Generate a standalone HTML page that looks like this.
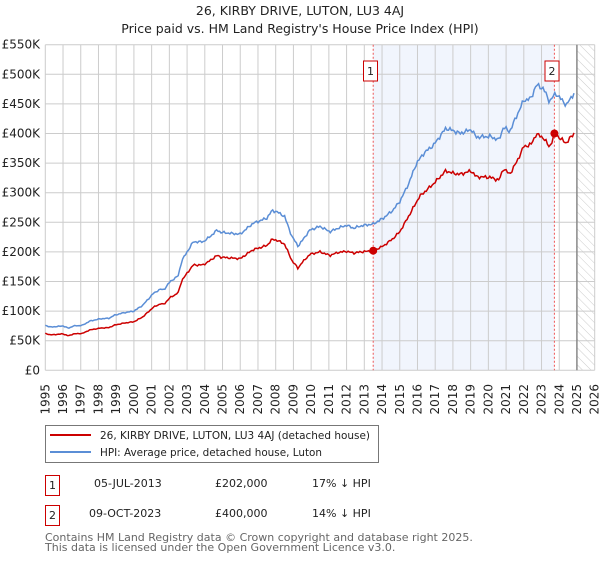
<!DOCTYPE html>
<html><head><meta charset="utf-8">
<style>
body{margin:0;background:#fff;font-family:"DejaVu Sans","Liberation Sans",sans-serif;}
svg text{font-family:"DejaVu Sans","Liberation Sans",sans-serif;}
</style></head>
<body>
<svg id="s" width="600" height="560" xmlns="http://www.w3.org/2000/svg">
<defs>
<pattern id="h" width="6" height="6" patternUnits="userSpaceOnUse" patternTransform="rotate(-45)">
<line x1="0" y1="0" x2="0" y2="6" stroke="#ccc" stroke-width="1"/>
</pattern>
</defs>
<text x="300" y="15" text-anchor="middle" font-size="12.5" fill="#222">26, KIRBY DRIVE, LUTON, LU3 4AJ</text>
<text x="300" y="33" text-anchor="middle" font-size="12.5" fill="#222">Price paid vs. HM Land Registry's House Price Index (HPI)</text>
<rect x="373.2" y="44.7" width="181.2" height="325.6" fill="#eef3fc" opacity="0.8"/>
<rect x="576.9" y="44.7" width="17.8" height="325.6" fill="url(#h)"/>
<g id="grid"></g>
<line x1="576.9" y1="44.7" x2="576.9" y2="370.3" stroke="#888" stroke-width="1.5"/>
<line x1="373.2" y1="44.7" x2="373.2" y2="370.3" stroke="#e55" stroke-width="1" stroke-dasharray="2,2"/>
<line x1="554.4" y1="44.7" x2="554.4" y2="370.3" stroke="#e55" stroke-width="1" stroke-dasharray="2,2"/>
<path id="blue" fill="none" stroke="#5b8ed6" stroke-width="1.5"/>
<path id="red" fill="none" stroke="#cc0000" stroke-width="1.5"/>
<circle cx="373.2" cy="250.7" r="4" fill="#cc0000"/>
<circle cx="554.4" cy="133.5" r="4" fill="#cc0000"/>
<rect x="363.5" y="61" width="14" height="20" fill="#fff" stroke="#cc0000"/>
<text x="370.5" y="75" text-anchor="middle" font-size="11" fill="#222">1</text>
<rect x="545" y="61" width="14" height="20" fill="#fff" stroke="#cc0000"/>
<text x="552" y="75" text-anchor="middle" font-size="11" fill="#222">2</text>
<g id="lab" font-size="12" fill="#222"></g>
<rect x="45.5" y="425.5" width="333" height="37" fill="#fff" stroke="#777"/>
<line x1="50" y1="435" x2="91" y2="435" stroke="#cc0000" stroke-width="2"/>
<line x1="50" y1="452" x2="91" y2="452" stroke="#5b8ed6" stroke-width="2"/>
<text x="100" y="439" font-size="11" fill="#222" textLength="270" lengthAdjust="spacingAndGlyphs">26, KIRBY DRIVE, LUTON, LU3 4AJ (detached house)</text>
<text x="100" y="456" font-size="11" fill="#222" textLength="222" lengthAdjust="spacingAndGlyphs">HPI: Average price, detached house, Luton</text>
<rect x="45.5" y="475.5" width="14" height="20" fill="#fff" stroke="#cc0000"/>
<text x="52.5" y="489" text-anchor="middle" font-size="11" fill="#222">1</text>
<rect x="45.5" y="505.5" width="14" height="20" fill="#fff" stroke="#cc0000"/>
<text x="52.5" y="519" text-anchor="middle" font-size="11" fill="#222">2</text>
<text x="94" y="487" font-size="11" fill="#222">05-JUL-2013</text>
<text x="215" y="487" font-size="11" fill="#222">£202,000</text>
<text x="312" y="487" font-size="11" fill="#222">17% ↓ HPI</text>
<text x="89" y="517" font-size="11" fill="#222">09-OCT-2023</text>
<text x="215" y="517" font-size="11" fill="#222">£400,000</text>
<text x="312" y="517" font-size="11" fill="#222">14% ↓ HPI</text>
<text x="45" y="541" font-size="11" fill="#666">Contains HM Land Registry data © Crown copyright and database right 2025.</text>
<text x="45" y="551" font-size="11" fill="#666">This data is licensed under the Open Government Licence v3.0.</text>
</svg>
<script>
var L=45.3,R=594.7,T=44.7,B=370.3,yw=(R-L)/31,k=(B-T)/550;
function X(y){return L+(y-1995)*yw}function Y(v){return B-v*k}
var g='',lab='';
for(var i=0;i<=31;i++){var x=X(1995+i);g+='<line x1="'+x+'" y1="'+T+'" x2="'+x+'" y2="'+B+'" stroke="#ccc"/>';
lab+='<text transform="translate('+(x+4)+',384) rotate(-90)" text-anchor="end">'+(1995+i)+'</text>';}
for(var v=0;v<=550;v+=50){var y=Y(v);g+='<line x1="'+L+'" y1="'+y+'" x2="'+R+'" y2="'+y+'" stroke="#ccc"/>';
lab+='<text x="40" y="'+(y+4)+'" text-anchor="end">'+(v==0?'£0':'£'+v+'K')+'</text>';}
document.getElementById('grid').innerHTML=g;document.getElementById('lab').innerHTML=lab;
var b=[[1995,76],[1995.3,73],[1996,75],[1996.3,71],[1996.6,75],[1997.1,76],[1997.5,83],[1998.1,87],[1998.6,88],[1998.9,93],[1999.4,97],[2000,100],[2000.5,110],[2001.1,130],[2001.5,137],[2001.7,136],[2002.04,150],[2002.3,155],[2002.5,160],[2002.7,185],[2003,200],[2003.35,217],[2003.9,217],[2004.3,226],[2004.7,237],[2004.9,233],[2005.6,231],[2006,230],[2006.7,248],[2007.5,257],[2007.8,270],[2008.05,268],[2008.5,260],[2008.9,227],[2009.28,209],[2009.37,214],[2009.93,237],[2010.5,243],[2011.06,234],[2011.5,240],[2012,245],[2012.4,240],[2012.8,244],[2013.5,247],[2014.07,257],[2014.6,270],[2015,285],[2015.5,315],[2015.95,350],[2016.4,368],[2016.9,380],[2017.6,409],[2018,405],[2018.4,400],[2019.05,407],[2019.3,394],[2020.1,395],[2020.6,389],[2020.85,411],[2021.2,403],[2021.6,430],[2022,456],[2022.4,459],[2022.7,482],[2023.1,476],[2023.45,454],[2023.8,468],[2024.1,458],[2024.4,448],[2024.85,469]];
var r=[[2009.37,178],[2009.93,196],[2010.5,200],[2011.06,194],[2011.5,199],[2012,201],[2012.4,198],[2012.8,200],[2013.5,202],[2014.07,210],[2014.6,222],[2015,234],[2015.5,260],[2016.1,293],[2016.9,315],[2017.6,337],[2018,333],[2018.4,331],[2019.05,337],[2019.3,327],[2020.1,326],[2020.6,321],[2020.85,341],[2021.2,331],[2021.6,352],[2022,378],[2022.4,381],[2022.7,399],[2023.1,393],[2023.45,377],[2023.77,400],[2024.1,390],[2024.4,384],[2024.85,401]];
var rr=b.filter(function(p){return p[0]<2009.37}).map(function(p){return [p[0],p[1]*0.82]});
r=rr.concat(r);
function interp(a,t){for(var i=1;i<a.length;i++){if(t<=a[i][0]){var f=(t-a[i-1][0])/(a[i][0]-a[i-1][0]);return a[i-1][1]+f*(a[i][1]-a[i-1][1]);}}return a[a.length-1][1];}
function P(a,s){var d='',t0=a[0][0],t1=a[a.length-1][0];for(var t=t0,i=0;t<=t1+1e-6;t+=1/12,i++){var v=interp(a,t)*(1+0.006*Math.sin(i*2.3+s)+0.004*Math.sin(i*5.1+s));d+=(i?'L':'M')+X(t).toFixed(1)+','+Y(v).toFixed(1);}return d;}
document.getElementById('blue').setAttribute('d',P(b,0));document.getElementById('red').setAttribute('d',P(r,1));
</script>
</body></html>
